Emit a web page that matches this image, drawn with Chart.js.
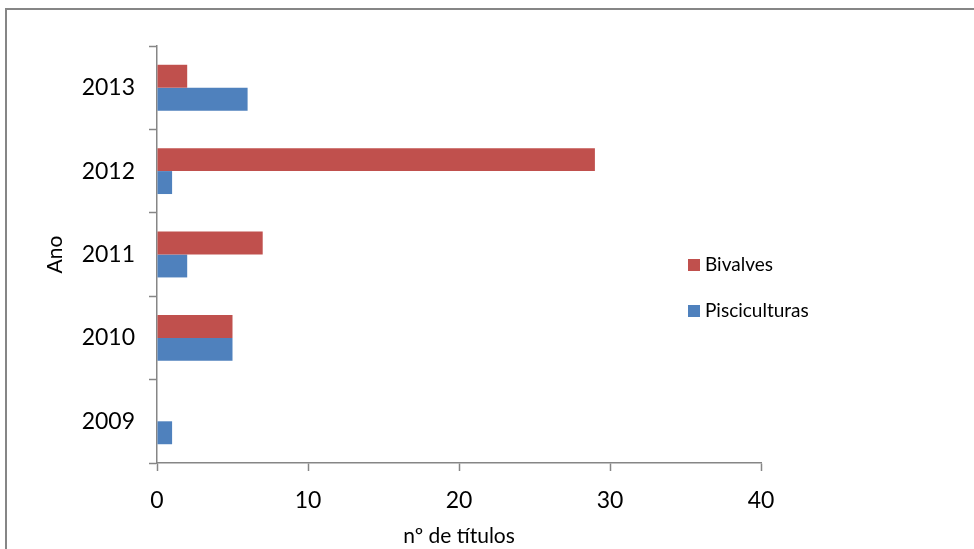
<!DOCTYPE html>
<html>
<head>
<meta charset="utf-8">
<style>
    html, body { margin: 0; padding: 0; background: #fff; }
    #wrap { width: 974px; height: 549px; }
</style>
</head>
<body>
<div id="wrap">
    <canvas id="myChart" width="974" height="549"></canvas>
</div>

<script src="https://cdn.jsdelivr.net/npm/chart.js"></script>

<script>
    // anos (de cima para baixo) e número de títulos por tipo
    const anos = ['2013', '2012', '2011', '2010', '2009'];
    const bivalves = [2, 29, 7, 5, 0];
    const pisciculturas = [6, 1, 2, 5, 1];
    const xTicks = [0, 10, 20, 30, 40];

    const FONTE = 'Lato, "Open Sans", sans-serif';
    const CINZA = '#868686';

    // moldura do gráfico (só aparecem os lados de cima e da esquerda)
    const moldura = {
        id: 'moldura',
        afterDraw(chart) {
            const c = chart.ctx;
            c.save();
            c.strokeStyle = CINZA;
            c.lineWidth = 2;
            c.beginPath();
            c.moveTo(6, chart.height);
            c.lineTo(6, 9);
            c.lineTo(chart.width, 9);
            c.stroke();
            c.restore();
        }
    };

    // legenda desenhada por dentro da área, como no Excel
    const legenda = {
        id: 'legenda',
        afterDraw(chart) {
            const c = chart.ctx;
            c.save();
            c.font = '19px ' + FONTE;
            c.textBaseline = 'middle';
            const ys = [265, 311];
            chart.data.datasets.forEach(function (ds, i) {
                c.fillStyle = ds.backgroundColor;
                c.fillRect(688, ys[i] - 6, 12, 12);
                c.fillStyle = '#000';
                c.fillText(ds.label, 705, ys[i]);
            });
            c.restore();
        }
    };

    const ctx = document.getElementById('myChart');

    new Chart(ctx, {
        type: 'bar',
        data: {
            labels: anos,
            datasets: [{
                label: 'Bivalves',
                data: bivalves,
                backgroundColor: '#C0504D',
                borderWidth: 0
            }, {
                label: 'Pisciculturas',
                data: pisciculturas,
                backgroundColor: '#4F81BD',
                borderWidth: 0
            }]
        },
        options: {
            indexAxis: 'y',
            responsive: false,
            animation: false,
            layout: {
                padding: { top: 46, right: 213, bottom: 0, left: 43 }
            },
            datasets: {
                bar: { barPercentage: 1, categoryPercentage: 0.55 }
            },
            scales: {
                x: {
                    min: 0,
                    max: 40,
                    afterBuildTicks(scale) {
                        scale.ticks = xTicks.map(v => ({ value: v }));
                    },
                    afterFit(scale) { scale.height = 549 - 463; },
                    grid: {
                        drawOnChartArea: false,
                        drawTicks: true,
                        tickLength: 8,
                        tickColor: CINZA,
                        tickWidth: 1.5
                    },
                    border: { color: CINZA, width: 1.5 },
                    ticks: {
                        color: '#000',
                        font: { family: FONTE, size: 23 },
                        padding: 16,
                        maxRotation: 0
                    },
                    title: {
                        display: true,
                        text: 'nº de títulos',
                        color: '#000',
                        font: { family: FONTE, size: 21 },
                        padding: { top: 0, bottom: 0 }
                    }
                },
                y: {
                    afterFit(scale) { scale.width = 157 - 43; },
                    grid: {
                        offset: true,
                        drawOnChartArea: false,
                        drawTicks: true,
                        tickLength: 8,
                        tickColor: CINZA,
                        tickWidth: 1.5
                    },
                    border: { color: CINZA, width: 1.5 },
                    ticks: {
                        color: '#000',
                        font: { family: FONTE, size: 23 },
                        padding: 14
                    },
                    title: {
                        display: true,
                        text: 'Ano',
                        color: '#000',
                        font: { family: FONTE, size: 21 },
                        padding: { top: 0, bottom: 0 }
                    }
                }
            },
            plugins: {
                legend: { display: false },
                tooltip: { enabled: false }
            }
        },
        plugins: [moldura, legenda]
    });
</script>
</body>
</html>
